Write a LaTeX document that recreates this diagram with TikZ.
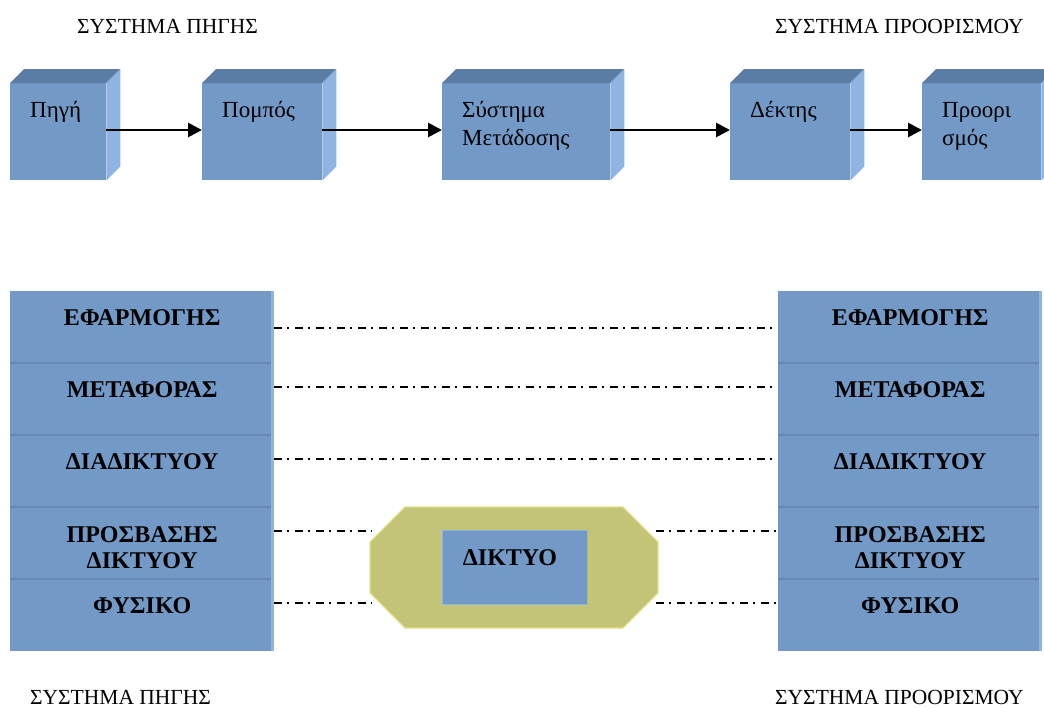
\documentclass[tikz,border=0pt]{standalone}
\usepackage{fontspec}
\setmainfont{Liberation Serif}
\usetikzlibrary{arrows.meta}
\definecolor{frontc}{HTML}{7399C6}
\definecolor{topc}{HTML}{5B7DA5}
\definecolor{sidec}{HTML}{8DB4E2}
\definecolor{divc}{HTML}{6587B2}
\definecolor{olivec}{HTML}{C4C476}
\definecolor{oliveedge}{HTML}{E2E08E}
\tikzset{
  frontface/.style={fill=frontc, draw=none, minimum height=97pt, anchor=north west, inner sep=0pt},
  boxtxt/.style={font=\fontsize{23}{28}\selectfont, align=left, anchor=base west, inner sep=0pt},
  hdr/.style={font=\fontsize{21.5}{25}\selectfont, anchor=base west, inner sep=0pt},
  layer/.style={fill=frontc, draw=none, minimum width=264pt, minimum height=72pt, anchor=north west, inner sep=0pt},
  laytxt/.style={font=\bfseries\fontsize{24}{26}\selectfont, align=center, anchor=base, inner sep=0pt},
  flow/.style={-{Triangle[length=14pt,width=14pt]}, line width=2.8pt, black},
  dd/.style={line width=1.6pt, dash pattern=on 8pt off 5pt on 2pt off 6pt, black}
}
\newcommand\cubefaces[1]{%
  \fill[topc] (#1.north west) -- ([shift={(14,-14)}]#1.north west) -- ([shift={(14,-14)}]#1.north east) -- (#1.north east) -- cycle;
  \fill[sidec] (#1.north east) -- ([shift={(14,-14)}]#1.north east) -- ([shift={(14,-14)}]#1.south east) -- (#1.south east) -- cycle;
}
\begin{document}
\begin{tikzpicture}[x=1pt,y=-1pt]
\useasboundingbox (0,0) rectangle (1044,707);
\clip (0,0) rectangle (1044,707);
% headers
\node[hdr] (h1) at (77,33) {ΣΥΣΤΗΜΑ ΠΗΓΗΣ};
\node[hdr] (h2) at (775,33) {ΣΥΣΤΗΜΑ ΠΡΟΟΡΙΣΜΟΥ};
\node[hdr] (h3) at (30,704) {ΣΥΣΤΗΜΑ ΠΗΓΗΣ};
\node[hdr] (h4) at (775,704) {ΣΥΣΤΗΜΑ ΠΡΟΟΡΙΣΜΟΥ};
% cubes
\node[frontface, minimum width=96pt] (b1) at (10,83) {};
\node[frontface, minimum width=120pt] (b2) at (202,83) {};
\node[frontface, minimum width=168pt] (b3) at (442,83) {};
\node[frontface, minimum width=120pt] (b4) at (730,83) {};
\node[frontface, minimum width=119pt] (b5) at (922,83) {};
\cubefaces{b1}\cubefaces{b2}\cubefaces{b3}\cubefaces{b4}\cubefaces{b5}
\node[boxtxt] (t1) at ([shift={(20,34)}]b1.north west) {Πηγή};
\node[boxtxt] (t2) at ([shift={(20,34)}]b2.north west) {Πομπός};
\node[boxtxt] (t3) at ([shift={(20,62)}]b3.north west) {Σύστημα\\Μετάδοσης};
\node[boxtxt] (t4) at ([shift={(20,34)}]b4.north west) {Δέκτης};
\node[boxtxt] (t5) at ([shift={(20,62)}]b5.north west) {Προορι\\σμός};
\draw[flow] (b1.east |- 0,130) -- (b2.west |- 0,130);
\draw[flow] (b2.east |- 0,130) -- (b3.west |- 0,130);
\draw[flow] (b3.east |- 0,130) -- (b4.west |- 0,130);
\draw[flow] (b4.east |- 0,130) -- (b5.west |- 0,130);
% layer stacks
\foreach \side/\x in {L/10, R/778} {
  \foreach \i/\y in {1/291, 2/363, 3/435, 4/507, 5/579} {
    \node[layer] (\side\i) at (\x,\y) {};
  }
  \draw[sidec, line width=3pt] ([xshift=-1.5]\side1.north east) -- ([xshift=-1.5]\side5.south east);
  \foreach \i in {2,...,5} {
    \draw[divc, line width=2pt] (\side\i.north west) -- ([xshift=-3]\side\i.north east);
  }
  \node[laytxt] (\side t1) at ([yshift=-34]\side1.north) {ΕΦΑΡΜΟΓΗΣ};
  \node[laytxt] (\side t2) at ([yshift=-34]\side2.north) {ΜΕΤΑΦΟΡΑΣ};
  \node[laytxt] (\side t3) at ([yshift=-34]\side3.north) {ΔΙΑΔΙΚΤΥΟΥ};
  \node[laytxt] (\side t4) at ([yshift=-61]\side4.north) {ΠΡΟΣΒΑΣΗΣ\\ΔΙΚΤΥΟΥ};
  \node[laytxt] (\side t5) at ([yshift=-34]\side5.north) {ΦΥΣΙΚΟ};
}
% network octagon
\draw[fill=olivec, draw=oliveedge, line width=1.2pt]
  (405,507) -- (623,507) -- (658,542) -- (658,593) -- (623,628) -- (405,628) -- (370,593) -- (370,542) -- cycle;
\node[fill=frontc, draw=sidec, line width=1pt, minimum width=145pt, minimum height=74pt, anchor=north west, inner sep=0pt] (net) at (442,530) {};
\node[laytxt] (nett) at ([shift={(-5,35)}]net.north) {ΔΙΚΤΥΟ};
\coordinate (oL) at (372,0);
\coordinate (oR) at (656,0);
% dash-dot connectors
\draw[dd] (L1.east |- 0,328) -- (R1.west |- 0,328);
\draw[dd] (L2.east |- 0,387) -- (R2.west |- 0,387);
\draw[dd] (L3.east |- 0,459) -- (R3.west |- 0,459);
\draw[dd] (L4.east |- 0,531) -- (oL |- 0,531);
\draw[dd] (oR |- 0,531) -- (R4.west |- 0,531);
\draw[dd] (L5.east |- 0,603) -- (oL |- 0,603);
\draw[dd] (oR |- 0,603) -- (R5.west |- 0,603);
\end{tikzpicture}
\end{document}
